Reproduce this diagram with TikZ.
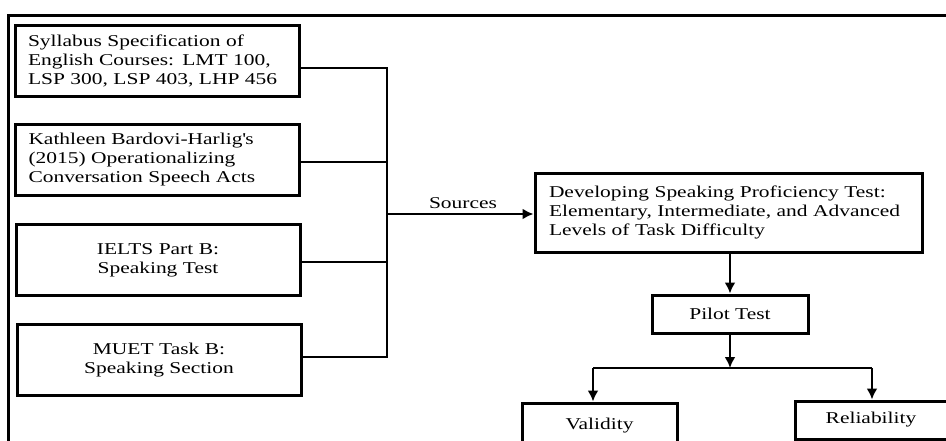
\documentclass[tikz,border=0pt]{standalone}
\usepackage{fontspec}
\setmainfont{Liberation Serif}[FakeStretch=1.3]
\usepackage{tikz}
\usetikzlibrary{
	arrows.meta,
	calc,
	positioning,
	}

\begin{document}
\begin{tikzpicture}[x=1pt, y=-1pt,
	box/.style={draw, line width=3pt, inner sep=0pt, font=\fontsize{16.5}{19}\selectfont},
	srcbox/.style={box, inner xsep=13pt, text width=258pt, minimum height=71pt},
	link/.style={line width=2.8pt},
	arr/.style={link, -{Latex[length=11pt, width=11pt]}},
	]
		\useasboundingbox (0,0) rectangle (946,440);
		\clip (0,0) rectangle (946,440);
		\draw[line width=3pt] (8,450) -- (8,15) -- (960,15);
		\node[srcbox, align=left] (syllabus) at (157,61) {Syllabus Specification of\\English Courses: LMT 100,\\LSP 300, LSP 403, LHP 456};
		\node[srcbox, align=left] (kathleen) at (157.5,160) {Kathleen Bardovi-Harlig\textquotesingle s\\(2015) Operationalizing\\Conversation Speech Acts};
		\node[srcbox, align=center] (ielts) at (158,260) {IELTS Part B:\\Speaking Test};
		\node[srcbox, align=center] (muet) at (159,360) {MUET Task B:\\Speaking Section};
		\coordinate (bus1) at (387,68);
		\coordinate (bus2) at (387,162);
		\coordinate (bus3) at (387,262);
		\coordinate (bus4) at (387,357);
		\coordinate (busout) at (387,214);
		\node[box, align=left, inner xsep=14pt, text width=359pt, minimum height=79pt] (develop) at (728.5,212.5) {Developing Speaking Proficiency Test:\\Elementary, Intermediate, and Advanced\\Levels of Task Difficulty};
		\node[font=\fontsize{16.5}{19}\selectfont, inner sep=0pt] (sources) at (463,203) {Sources};
		\node[box, minimum width=156pt, minimum height=38pt] (pilot) at (730,314) {Pilot Test};
		\coordinate (split) at (730,368);
		\coordinate (splitL) at (593,368);
		\coordinate (splitR) at (872,368);
		\node[box, minimum width=155pt, minimum height=46pt] (validity) at (599.5,426) {Validity};
		\node[box, minimum width=152pt, minimum height=38pt] (reliability) at (871,420) {Reliability};
		\draw[link] (syllabus.east |- bus1) -- (bus1) -- (bus4) -- (muet.east |- bus4);
		\draw[link] (kathleen.east |- bus2) -- (bus2);
		\draw[link] (ielts.east |- bus3) -- (bus3);
		\draw[arr] (busout) -- (develop.west |- busout);
		\draw[arr] (develop.south -| pilot) -- (pilot.north);
		\draw[arr] (pilot.south) -- (split);
		\draw[link] (splitL) -- (splitR);
		\draw[arr] (splitL) -- (validity.north -| splitL);
		\draw[arr] (splitR) -- (reliability.north -| splitR);
	\end{tikzpicture}
\end{document}
